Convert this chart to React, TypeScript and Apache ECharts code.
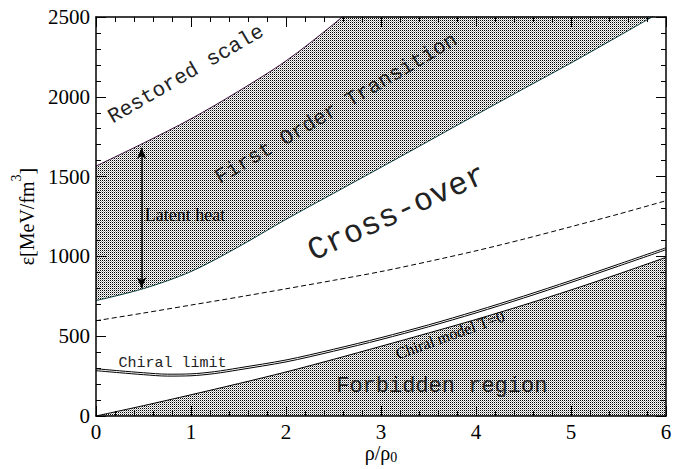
import React, { useEffect, useRef } from "react";
import * as echarts from "echarts";

// ---- data ----
const rho = [0, 0.5, 1, 1.5, 2, 2.5, 3, 3.5, 4, 4.5, 5, 5.5, 6];
// upper boundary of first-order band (above 2500 it is clipped by the frame)
const firstOrderUpper = [1566, 1710, 1862, 2035, 2225, 2455, 2710, 2990, 3290, 3610, 3950, 4310, 4700];
// lower boundary of first-order band
const firstOrderLower = [723, 798, 905, 1060, 1232, 1395, 1558, 1722, 1887, 2050, 2212, 2380, 2550];
// dashed cross-over line
const crossOverLine = [597, 645, 695, 745, 797, 850, 905, 968, 1035, 1108, 1186, 1265, 1349];
// forbidden-region boundary
const forbiddenEdge = [0, 65, 133, 203, 276, 355, 437, 520, 605, 695, 790, 890, 994];

const rhoChiral = [0, 0.25, 0.5, 0.75, 1, 1.25, 1.5, 2, 2.5, 3, 3.5, 4, 4.5, 5, 5.5, 6];
const chiralLimit = [296, 283, 271, 262, 264, 278, 301, 351, 418, 491, 571, 658, 751, 849, 951, 1054];
const chiralModelT0 = [284, 271, 259, 250, 252, 266, 289, 339, 406, 479, 559, 646, 739, 837, 939, 1042];

const xTicks = { min: 0, max: 6, interval: 1 };
const yTicks = { min: 0, max: 2500, interval: 500 };

// latent heat arrow ends (data units)
const latentArrow = { x: 0.48, from: 800, to: 1680 };

// annotation anchors (data units)
const SERIF = "Liberation Serif";
const MONO = "Liberation Mono";
const annotations = [
  { text: "Restored scale", at: [0.95, 2140], angle: 30.2, font: MONO, size: 21 },
  { text: "First Order Transition", at: [2.53, 1924], angle: 30.5, font: MONO, size: 21 },
  { text: "Cross-over", at: [3.17, 1270], angle: 24.5, font: MONO, size: 32 },
  { text: "Latent heat", at: [0.937, 1259], angle: 0, font: SERIF, size: 18 },
  { text: "Chiral limit", at: [0.805, 329], angle: 0, font: MONO, size: 15 },
  { text: "Chiral model T=0", at: [3.726, 508], angle: 19.8, font: SERIF, size: 16 },
  { text: "Forbidden region", at: [3.64, 185], angle: 0, font: MONO, size: 22 },
];

function makePattern() {
  const c = document.createElement("canvas");
  c.width = 2;
  c.height = 2;
  const ctx = c.getContext("2d")!;
  ctx.fillStyle = "#ffffff";
  ctx.fillRect(0, 0, 2, 2);
  ctx.fillStyle = "#000000";
  ctx.fillRect(0, 0, 1, 1);
  ctx.fillStyle = "#a8a8a8";
  ctx.fillRect(1, 1, 1, 1);
  return { image: c.toDataURL(), repeat: "repeat", imageWidth: 2, imageHeight: 2 } as any;
}

const pairs = (xv: number[], yv: number[]) => xv.map((x, i) => [x, yv[i]]);

export default function App() {
  const ref = useRef<HTMLDivElement>(null);
  useEffect(() => {
    const chart = echarts.init(ref.current!, null, { renderer: "svg" });
    const pattern = makePattern();

    const axisBase = (showLabel: boolean) => ({
      type: "value",
      z: 10,
      axisLine: { show: true, onZero: false, lineStyle: { color: "#000", width: 1.5 } },
      axisTick: { show: true, inside: true, length: 10, lineStyle: { color: "#000", width: 1 } },
      minorTick: { show: true, splitNumber: 5, length: 5, lineStyle: { color: "#000", width: 1 } },
      splitLine: { show: false },
      minorSplitLine: { show: false },
      axisLabel: { show: showLabel },
    });
    const tickLabel = (margin: number) => ({
      show: true,
      color: "#000",
      fontFamily: SERIF,
      fontSize: 21,
      lineHeight: 16,
      margin,
      formatter: (v: number) => String(v),
    });

    chart.setOption({
      animation: false,
      grid: { left: 96, right: 7, top: 17, bottom: 53, containLabel: false, outerBoundsMode: "none" },
      xAxis: [
        {
          ...axisBase(true),
          ...xTicks,
          position: "bottom",
          axisLabel: tickLabel(8),
          name: "{a|ρ/ρ}{b|0}",
          nameLocation: "middle",
          nameMoveOverlap: false,
          nameGap: 28,
          nameTextStyle: {
            rich: {
              a: { fontFamily: SERIF, fontSize: 20, lineHeight: 20, color: "#000", padding: [0, 0, 3, 0] },
              b: { fontFamily: SERIF, fontSize: 14, lineHeight: 12, color: "#000", verticalAlign: "bottom" },
            },
          },
        },
        { ...axisBase(false), ...xTicks, position: "top" },
      ],
      yAxis: [
        {
          ...axisBase(true),
          ...yTicks,
          position: "left",
          axisLabel: tickLabel(6),
          name: "{a|ε[MeV/fm}{s|3}{a|]}",
          nameLocation: "middle",
          nameRotate: 90,
          nameGap: 63,
          nameTextStyle: {
            rich: {
              a: { fontFamily: SERIF, fontSize: 20, lineHeight: 20, color: "#000", padding: [16, 0, 0, 0] },
              s: { fontFamily: SERIF, fontSize: 14, lineHeight: 14, color: "#000", verticalAlign: "top" },
            },
          },
        },
        { ...axisBase(false), ...yTicks, position: "right" },
      ],
      series: [
        {
          name: "First order upper",
          type: "line",
          data: pairs(rho, firstOrderUpper),
          smooth: 0.3,
          symbol: "none",
          lineStyle: { color: "#3d0f3d", width: 1 },
          areaStyle: { color: pattern, opacity: 1 },
          z: 1,
        },
        {
          name: "First order lower",
          type: "line",
          data: pairs(rho, firstOrderLower),
          smooth: 0.3,
          symbol: "none",
          lineStyle: { color: "#0d3f3f", width: 1 },
          areaStyle: { color: "#ffffff", opacity: 1 },
          z: 2,
        },
        {
          name: "Forbidden region",
          type: "line",
          data: pairs(rho, forbiddenEdge),
          smooth: 0.3,
          symbol: "none",
          lineStyle: { color: "#000", width: 1 },
          areaStyle: { color: pattern, opacity: 1 },
          z: 3,
        },
        {
          name: "Cross-over",
          type: "line",
          data: pairs(rho, crossOverLine),
          smooth: 0.3,
          symbol: "none",
          lineStyle: { color: "#000", width: 1, type: [5, 3] },
          z: 3,
          markLine: {
            silent: true,
            symbol: ["arrow", "arrow"],
            symbolSize: [7, 11],
            label: { show: false },
            lineStyle: { color: "#000", width: 1.5, type: "solid" },
            data: [[{ coord: [latentArrow.x, latentArrow.from] }, { coord: [latentArrow.x, latentArrow.to] }]],
          },
        },
        {
          name: "Chiral limit",
          type: "line",
          data: pairs(rhoChiral, chiralLimit),
          smooth: 0.3,
          symbol: "none",
          lineStyle: { color: "#000", width: 1 },
          z: 3,
        },
        {
          name: "Chiral model T=0",
          type: "line",
          data: pairs(rhoChiral, chiralModelT0),
          smooth: 0.3,
          symbol: "none",
          lineStyle: { color: "#000", width: 1 },
          z: 3,
        },
      ],
    });

    const graphic: any[] = annotations.map((a) => {
      const p = chart.convertToPixel({ gridIndex: 0 }, a.at) as number[];
      return {
        type: "text",
        x: p[0],
        y: p[1],
        rotation: (a.angle * Math.PI) / 180,
        z: 20,
        silent: true,
        style: {
          text: a.text,
          fill: a.font === MONO ? "#222" : "#000",
          font: `${a.size}px "${a.font}"`,
          align: "center",
          verticalAlign: "middle",
        },
      };
    });
    chart.setOption({ graphic });

    return () => chart.dispose();
  }, []);
  return <div ref={ref} style={{ position: "absolute", left: 0, top: 0, width: 673, height: 469 }} />;
}
